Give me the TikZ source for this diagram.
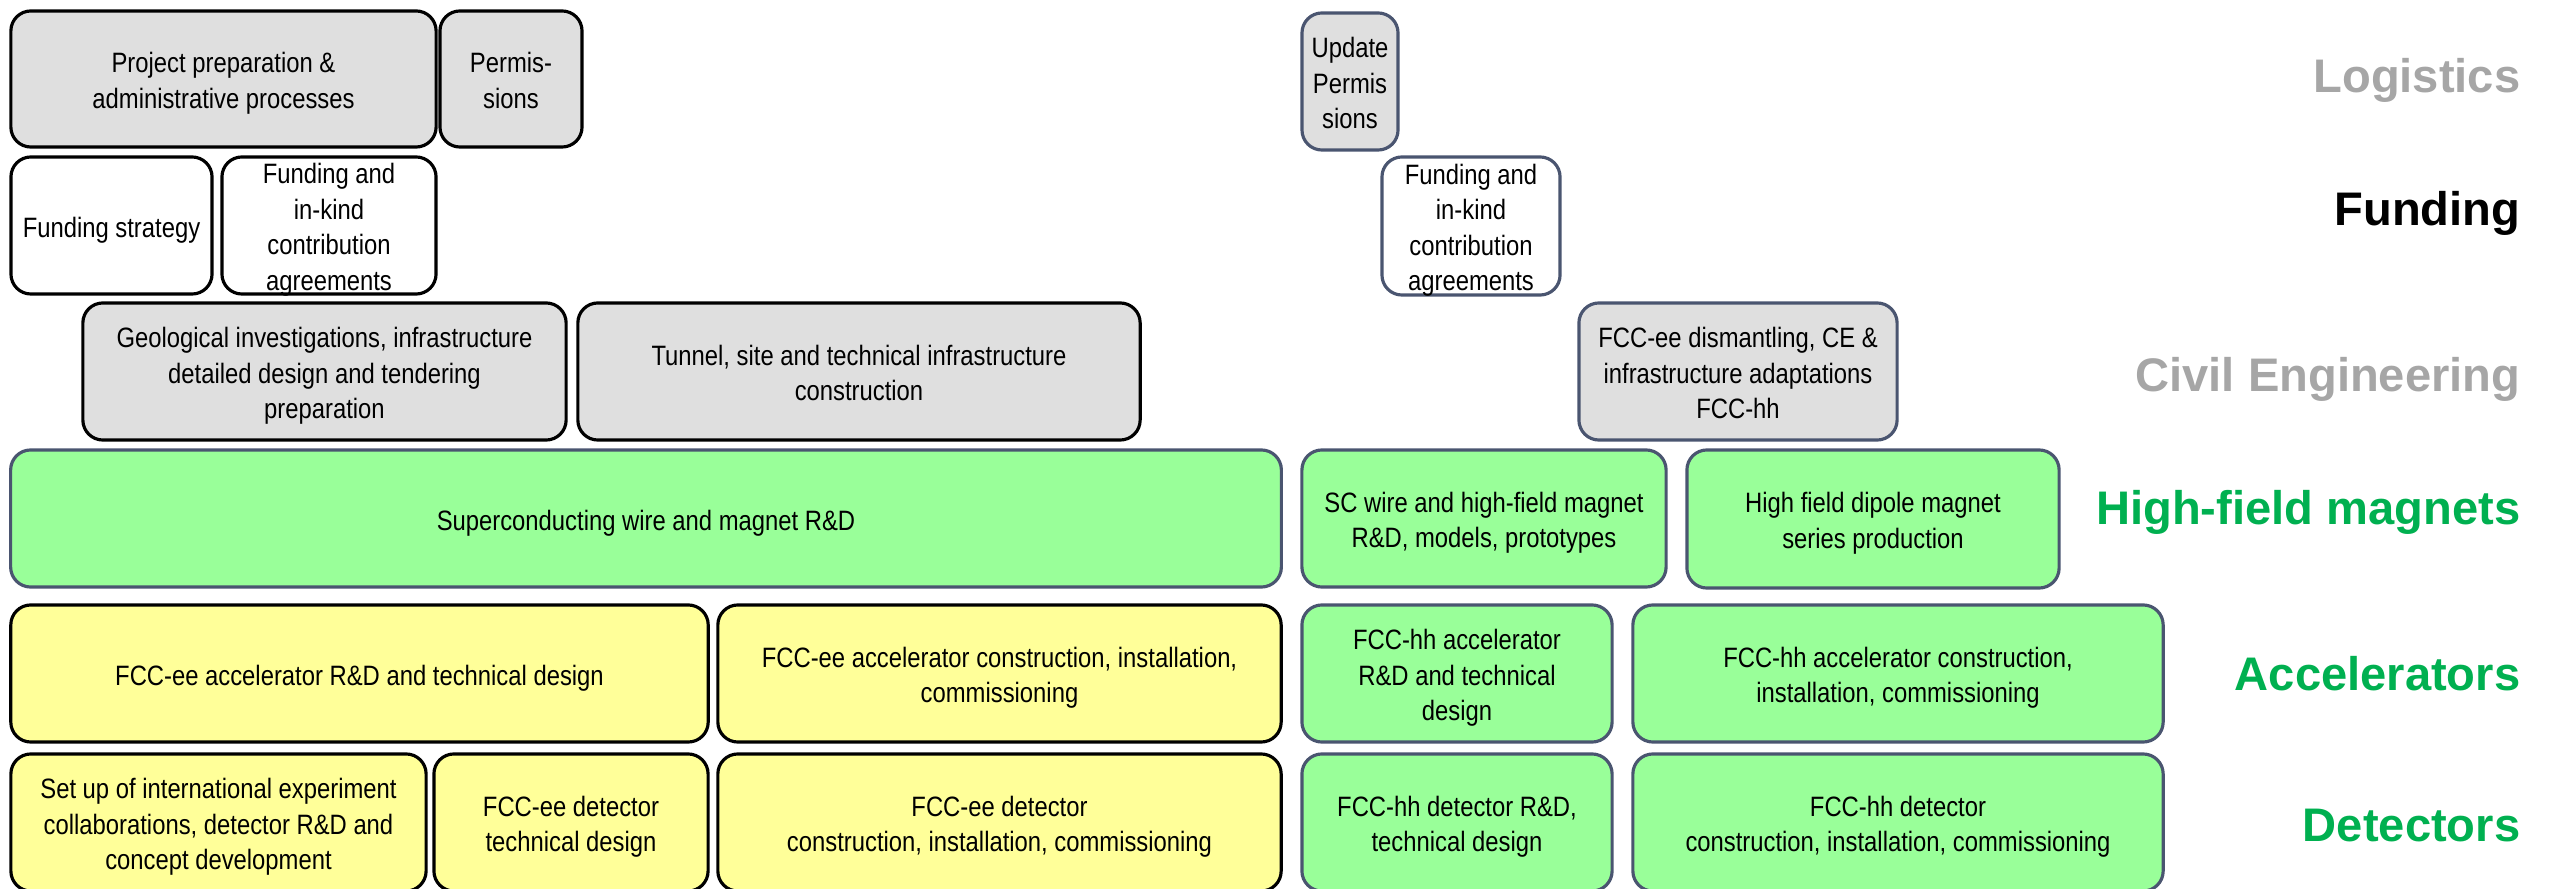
\documentclass[tikz,border=0pt]{standalone}
\usepackage{fontspec}
\setmainfont{Liberation Sans}
\newfontfamily\boxfont[FakeStretch=0.85]{Liberation Sans}
\definecolor{boxgray}{HTML}{DFDFDF}
\definecolor{boxgreen}{HTML}{99FF99}
\definecolor{boxyellow}{HTML}{FFFF99}
\definecolor{slate}{HTML}{4A5570}
\definecolor{labgray}{HTML}{A6A6A6}
\definecolor{labgreen}{HTML}{00B050}
\newcommand\boxtxt[1]{\begin{tabular}{@{}c@{}}#1\end{tabular}}
\tikzset{
  box/.style={draw, rounded corners=0.2cm, line width=0.9pt, inner sep=0pt},
  txt/.style={inner sep=0pt, yshift=-1.26pt, text=black,
    font=\boxfont\fontsize{7.97pt}{10.1pt}\selectfont},
  lgk/.style={box, fill=boxgray, draw=black},
  lgs/.style={box, fill=boxgray, draw=slate},
  whk/.style={box, fill=white, draw=black},
  whs/.style={box, fill=white, draw=slate},
  yek/.style={box, fill=boxyellow, draw=black},
  grs/.style={box, fill=boxgreen, draw=slate},
  lab/.style={anchor=base east, inner sep=0pt, font=\bfseries\fontsize{13.4pt}{16pt}\selectfont}
}
\begin{document}
\begin{tikzpicture}[x=0.01cm,y=-0.01cm]
\useasboundingbox (0,0) rectangle (2558,889);
% Logistics
\node[lgk, minimum width=4.25cm, minimum height=1.36cm, label={[txt]center:{\boxtxt{Project preparation \&\\administrative processes}}}] (prep) at (223.5,79) {};
\node[lgk, minimum width=1.42cm, minimum height=1.36cm, label={[txt]center:{\boxtxt{Permis-\\sions}}}] (perm) at (511,79) {};
\node[lgs, minimum width=0.96cm, minimum height=1.37cm, label={[txt]center:{\boxtxt{Update\\Permis\\sions}}}] (uperm) at (1350,81.5) {};
% Funding
\node[whk, minimum width=2.01cm, minimum height=1.37cm, label={[txt]center:{\boxtxt{Funding strategy}}}] (fstrat) at (111.5,225.5) {};
\node[whk, minimum width=2.14cm, minimum height=1.37cm, label={[txt]center:{\boxtxt{Funding and\\in-kind\\contribution\\agreements}}}] (fagr) at (329,225.5) {};
\node[whs, minimum width=1.78cm, minimum height=1.38cm, label={[txt]center:{\boxtxt{Funding and\\in-kind\\contribution\\agreements}}}] (fagr2) at (1471,226) {};
% Civil engineering
\node[lgk, minimum width=4.83cm, minimum height=1.37cm, label={[txt]center:{\boxtxt{Geological investigations, infrastructure\\detailed design and tendering\\preparation}}}] (geo) at (324.5,371.5) {};
\node[lgk, minimum width=5.62cm, minimum height=1.37cm, label={[txt]center:{\boxtxt{Tunnel, site and technical infrastructure\\construction}}}] (tun) at (859,371.5) {};
\node[lgs, minimum width=3.18cm, minimum height=1.37cm, label={[txt]center:{\boxtxt{FCC-ee dismantling, CE \&\\infrastructure adaptations\\FCC-hh}}}] (dis) at (1738,371.5) {};
% High-field magnets
\node[grs, minimum width=12.70cm, minimum height=1.37cm, label={[txt]center:{\boxtxt{Superconducting wire and magnet R\&D}}}] (scrd) at (646,518.5) {};
\node[grs, minimum width=3.64cm, minimum height=1.37cm, label={[txt]center:{\boxtxt{SC wire and high-field magnet\\R\&D, models, prototypes}}}] (schh) at (1484,518.5) {};
\node[grs, minimum width=3.72cm, minimum height=1.38cm, label={[txt]center:{\boxtxt{High field dipole magnet\\series production}}}] (hfd) at (1873,519) {};
% Accelerators
\node[yek, minimum width=6.97cm, minimum height=1.37cm, label={[txt]center:{\boxtxt{FCC-ee accelerator R\&D and technical design}}}] (accee) at (359.5,673.5) {};
\node[yek, minimum width=5.63cm, minimum height=1.37cm, label={[txt]center:{\boxtxt{FCC-ee accelerator construction, installation,\\commissioning}}}] (conee) at (999.5,673.5) {};
\node[grs, minimum width=3.10cm, minimum height=1.37cm, label={[txt]center:{\boxtxt{FCC-hh accelerator\\R\&D and technical\\design}}}] (acchh) at (1457,673.5) {};
\node[grs, minimum width=5.30cm, minimum height=1.37cm, label={[txt]center:{\boxtxt{FCC-hh accelerator construction,\\installation, commissioning}}}] (conhh) at (1898,673.5) {};
% Detectors
\node[yek, minimum width=4.15cm, minimum height=1.37cm, label={[txt]center:{\boxtxt{Set up of international experiment\\collaborations, detector R\&D and\\concept development}}}] (setup) at (218.5,822.5) {};
\node[yek, minimum width=2.74cm, minimum height=1.37cm, label={[txt]center:{\boxtxt{FCC-ee detector\\technical design}}}] (detee) at (571,822.5) {};
\node[yek, minimum width=5.63cm, minimum height=1.37cm, label={[txt]center:{\boxtxt{FCC-ee detector\\construction, installation, commissioning}}}] (dconee) at (999.5,822.5) {};
\node[grs, minimum width=3.10cm, minimum height=1.37cm, label={[txt]center:{\boxtxt{FCC-hh detector R\&D,\\technical design}}}] (dethh) at (1457,822.5) {};
\node[grs, minimum width=5.30cm, minimum height=1.37cm, label={[txt]center:{\boxtxt{FCC-hh detector\\construction, installation, commissioning}}}] (dconhh) at (1898,822.5) {};
% Row labels
\node[lab, text=labgray] (llog) at (2521,93) {Logistics};
\node[lab, text=black] (lfund) at (2521,226) {Funding};
\node[lab, text=labgray] (lce) at (2521,392) {Civil Engineering};
\node[lab, text=labgreen] (lhfm) at (2521,525) {High-field magnets};
\node[lab, text=labgreen] (lacc) at (2521,691) {Accelerators};
\node[lab, text=labgreen] (ldet) at (2521,841) {Detectors};
\end{tikzpicture}
\end{document}
